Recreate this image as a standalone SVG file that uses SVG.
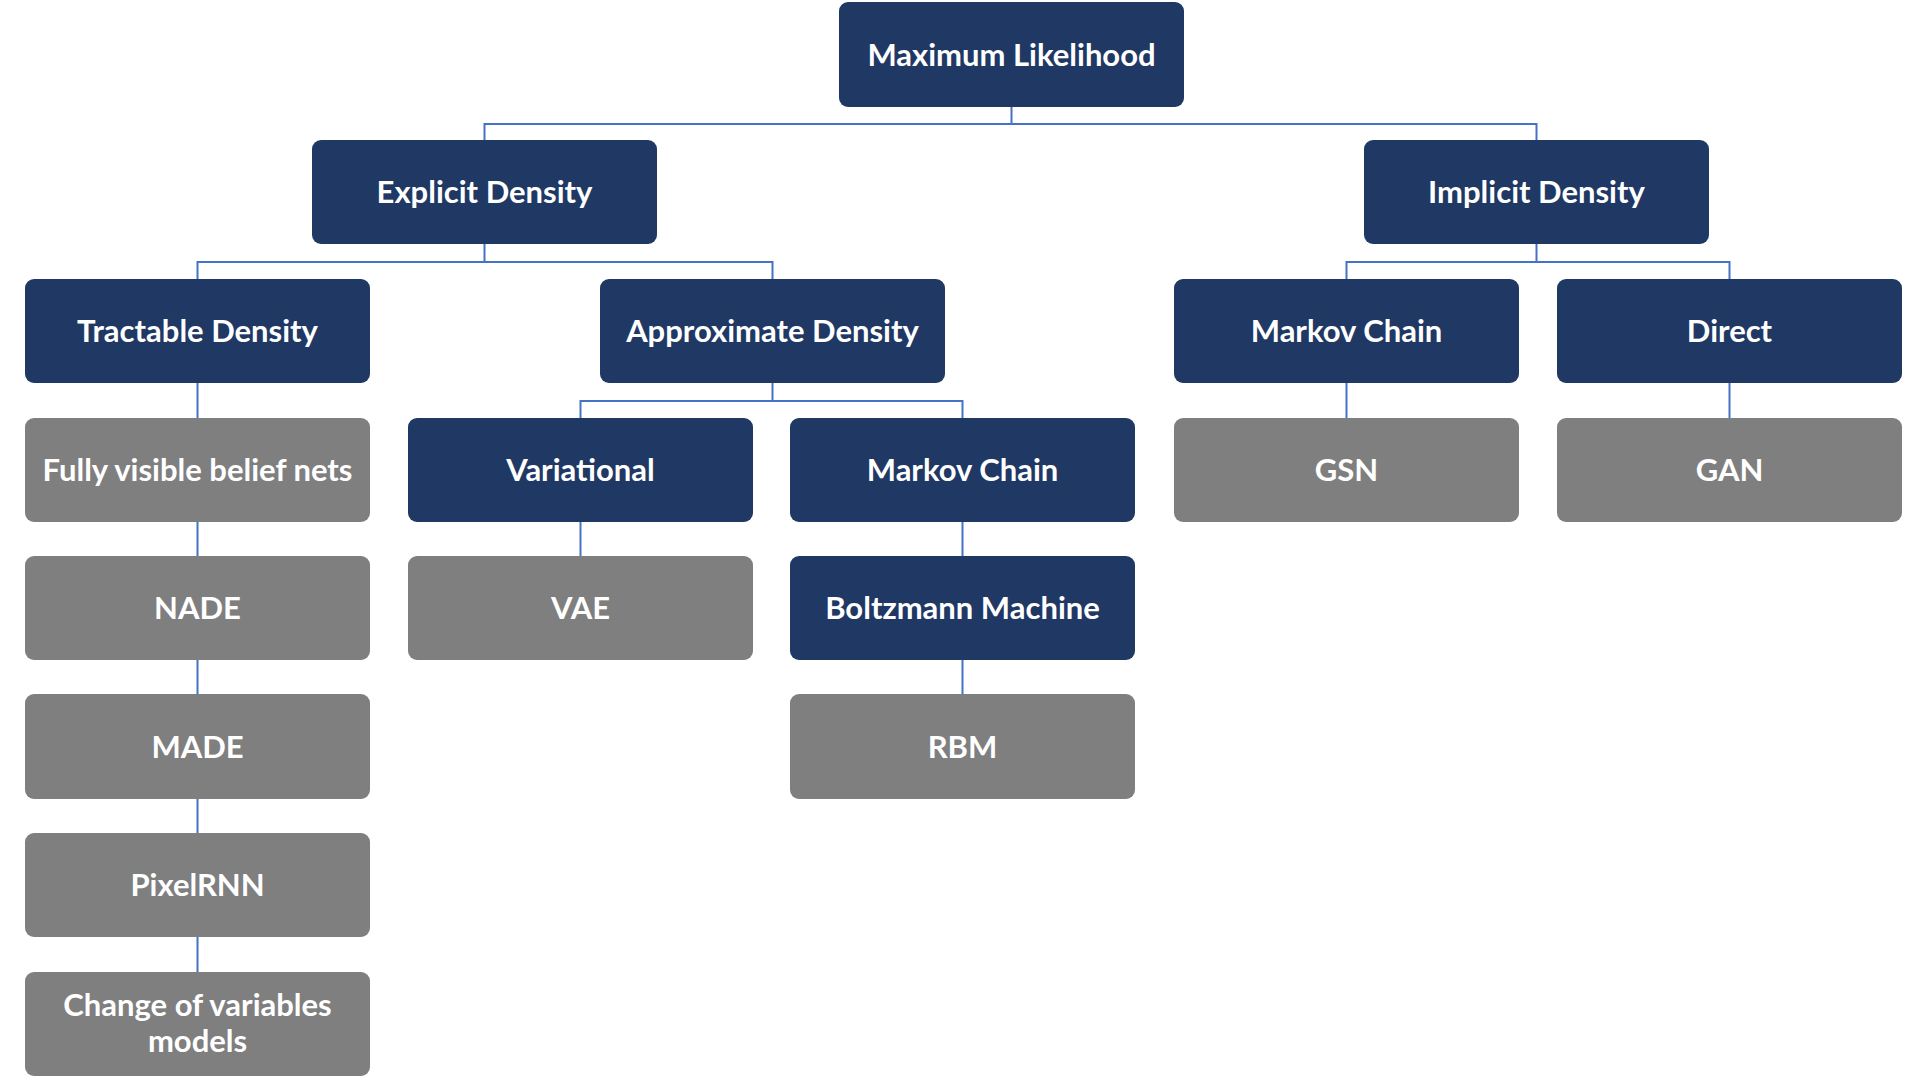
<svg xmlns="http://www.w3.org/2000/svg" width="1927" height="1082" viewBox="0 0 1927 1082">
<style>
.d{fill:#203864}
.g{fill:#7f7f7f}
.n rect{rx:9;ry:9}
.n text{font-family:Lato,"Liberation Sans",sans-serif;font-weight:bold;font-size:31px;fill:#ffffff;text-anchor:middle}
#connectors path{fill:none;stroke:#4472c4;stroke-width:2}
</style>
<rect width="1927" height="1082" fill="#ffffff"/>
<g id="connectors">
<path d="M1011.5 107V124M484.5 140V124H1536.5V140"/>
<path d="M484.5 244V262M197.5 279V262H772.5V279"/>
<path d="M1536.5 244V262M1346.5 279V262H1729.5V279"/>
<path d="M772.5 383V401M580.5 418V401H962.5V418"/>
<path d="M197.5 383V418M197.5 522V556M197.5 660V694M197.5 799V833M197.5 937V972"/>
<path d="M580.5 522V556"/>
<path d="M962.5 522V556M962.5 660V694"/>
<path d="M1346.5 383V418M1729.5 383V418"/>
</g>
<g id="n-maxlik" class="n"><rect class="d" x="839" y="2" width="345" height="105"/><text x="1011.5" y="65.5">Maximum Likelihood</text></g>
<g id="n-explicit" class="n"><rect class="d" x="312" y="140" width="345" height="104"/><text x="484.5" y="203">Explicit Density</text></g>
<g id="n-implicit" class="n"><rect class="d" x="1364" y="140" width="345" height="104"/><text x="1536.5" y="203">Implicit Density</text></g>
<g id="n-tractable" class="n"><rect class="d" x="25" y="279" width="345" height="104"/><text x="197.5" y="342">Tractable Density</text></g>
<g id="n-approx" class="n"><rect class="d" x="600" y="279" width="345" height="104"/><text x="772.5" y="342">Approximate Density</text></g>
<g id="n-mc-r" class="n"><rect class="d" x="1174" y="279" width="345" height="104"/><text x="1346.5" y="342">Markov Chain</text></g>
<g id="n-direct" class="n"><rect class="d" x="1557" y="279" width="345" height="104"/><text x="1729.5" y="342">Direct</text></g>
<g id="n-fvbn" class="n"><rect class="g" x="25" y="418" width="345" height="104"/><text x="197.5" y="481">Fully visible belief nets</text></g>
<g id="n-variational" class="n"><rect class="d" x="408" y="418" width="345" height="104"/><text x="580.5" y="481">Variational</text></g>
<g id="n-mc-l" class="n"><rect class="d" x="790" y="418" width="345" height="104"/><text x="962.5" y="481">Markov Chain</text></g>
<g id="n-gsn" class="n"><rect class="g" x="1174" y="418" width="345" height="104"/><text x="1346.5" y="481">GSN</text></g>
<g id="n-gan" class="n"><rect class="g" x="1557" y="418" width="345" height="104"/><text x="1729.5" y="481">GAN</text></g>
<g id="n-nade" class="n"><rect class="g" x="25" y="556" width="345" height="104"/><text x="197.5" y="619">NADE</text></g>
<g id="n-vae" class="n"><rect class="g" x="408" y="556" width="345" height="104"/><text x="580.5" y="619">VAE</text></g>
<g id="n-boltz" class="n"><rect class="d" x="790" y="556" width="345" height="104"/><text x="962.5" y="619">Boltzmann Machine</text></g>
<g id="n-made" class="n"><rect class="g" x="25" y="694" width="345" height="105"/><text x="197.5" y="757.5">MADE</text></g>
<g id="n-rbm" class="n"><rect class="g" x="790" y="694" width="345" height="105"/><text x="962.5" y="757.5">RBM</text></g>
<g id="n-pixelrnn" class="n"><rect class="g" x="25" y="833" width="345" height="104"/><text x="197.5" y="896">PixelRNN</text></g>
<g id="n-cov" class="n"><rect class="g" x="25" y="972" width="345" height="104"/><text x="197.5" y="1016">Change of variables</text><text x="197.5" y="1052">models</text></g>
</svg>
